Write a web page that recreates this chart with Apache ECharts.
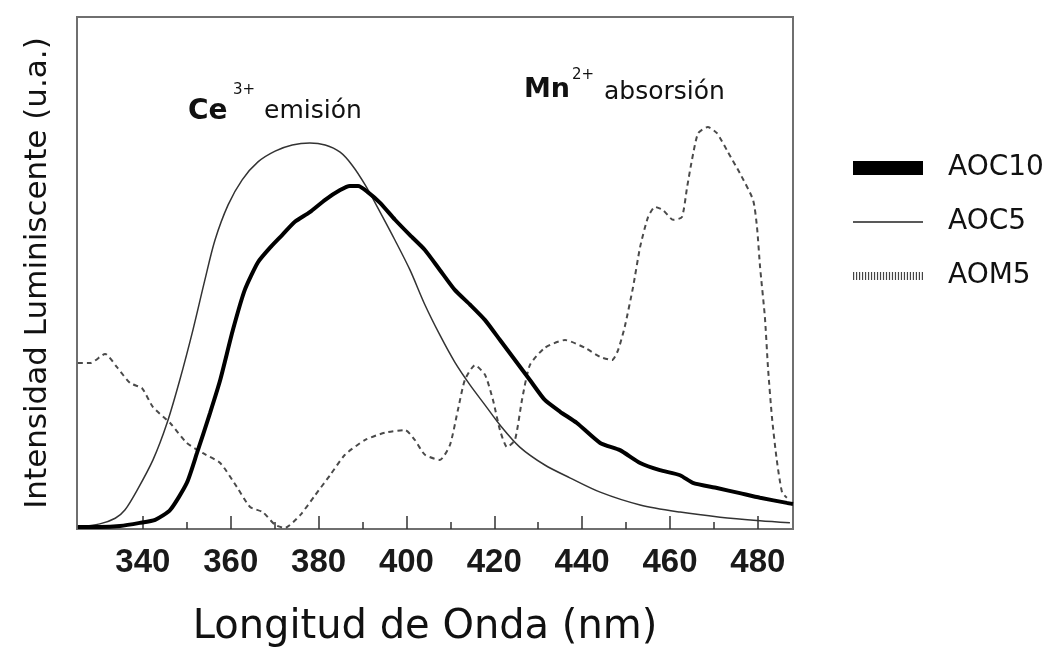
<!DOCTYPE html>
<html>
<head>
<meta charset="utf-8">
<script src="https://cdn.jsdelivr.net/npm/echarts@6/dist/echarts.min.js"></script>
<style>
  html, body { margin: 0; padding: 0; background: #fff; }
  #chart { width: 1053px; height: 658px; }
</style>
</head>
<body>
<div id="chart"></div>
<script>
// Wavelength axis (nm), labelled ticks and the shorter in-between ticks
const xMin = 325;
const xMax = 488;
const xTicks = [340, 360, 380, 400, 420, 440, 460, 480];
const xMinorTicks = [350, 370, 390, 410, 430, 450, 470];

// Series names
const seriesNames = ['AOC10', 'AOC5', 'AOM5'];

// AOC10 emission: [wavelength nm, intensity a.u.]
const aoc10 = [
  [325.2, 0.4], [330.2, 0.4], [334.8, 0.6], [339.3, 1.2], [342.8, 1.8],
  [346.2, 3.7], [350.0, 9.0], [352.3, 14.8], [355.3, 22.7], [357.6, 29.1],
  [360.5, 38.9], [363.2, 46.7], [366.2, 52.1], [368.9, 54.9], [371.7, 57.4],
  [374.6, 60.0], [378.0, 61.9], [381.5, 64.3], [384.9, 66.2], [387.1, 67.0],
  [389.0, 67.0], [391.2, 65.8], [394.0, 63.7], [397.4, 60.4], [400.8, 57.4],
  [404.2, 54.5], [407.6, 50.6], [411.0, 46.7], [414.5, 43.8], [417.9, 40.8],
  [421.3, 36.9], [424.7, 33.0], [428.1, 29.1], [431.5, 25.2], [435.0, 22.9],
  [438.8, 20.7], [444.1, 16.8], [448.6, 15.4], [453.2, 12.9], [457.7, 11.5],
  [462.3, 10.5], [465.2, 9.0], [470.7, 8.0], [475.9, 7.0], [480.5, 6.1],
  [486.6, 5.1], [488.0, 4.9]
];

// AOC5 emission
const aoc5 = [
  [325.2, 0.4], [330.2, 1.0], [333.7, 2.1], [335.9, 3.7], [338.7, 7.6],
  [342.3, 13.5], [345.5, 20.7], [348.4, 29.1], [351.4, 38.9], [354.1, 48.6],
  [356.4, 56.4], [359.4, 63.3], [362.6, 68.2], [366.2, 71.7], [370.1, 73.8],
  [374.0, 75.0], [378.0, 75.4], [381.5, 75.0], [384.9, 73.6], [387.6, 71.1],
  [390.6, 67.2], [394.0, 61.9], [397.4, 56.4], [400.8, 50.6], [404.2, 43.8],
  [407.6, 37.9], [411.0, 32.6], [414.5, 28.1], [417.9, 24.2], [421.3, 20.3],
  [425.8, 16.0], [431.5, 12.5], [437.2, 10.0], [444.1, 7.2], [453.2, 4.7],
  [462.3, 3.3], [471.4, 2.3], [480.5, 1.6], [487.3, 1.2]
];

// AOM5 absorption
const aom5 = [
  [325.2, 32.4], [328.0, 32.4], [331.4, 34.2], [334.1, 31.6], [337.1, 28.5],
  [339.8, 27.5], [342.3, 23.8], [346.2, 20.7], [350.0, 16.8], [353.7, 14.8],
  [357.6, 12.9], [361.4, 8.2], [364.4, 4.3], [367.3, 3.3], [370.1, 0.8],
  [372.3, 0.2], [375.8, 2.7], [379.2, 6.6], [382.6, 10.5], [386.0, 14.5],
  [390.6, 17.4], [395.1, 18.8], [399.7, 19.3], [401.9, 17.4], [404.2, 14.5],
  [407.6, 13.5], [409.9, 16.4], [411.7, 23.2], [413.3, 29.1], [415.6, 32.0],
  [417.9, 30.1], [419.7, 25.2], [421.3, 19.3], [422.9, 16.0], [424.7, 17.4],
  [426.3, 25.2], [428.1, 32.0], [431.5, 35.4], [436.1, 36.9], [440.6, 35.4],
  [444.1, 33.6], [446.8, 33.0], [448.2, 35.0], [449.7, 39.5], [451.6, 47.3],
  [453.2, 55.1], [455.0, 60.9], [456.6, 62.9], [458.4, 62.3], [460.7, 60.4],
  [462.7, 60.9], [463.9, 66.8], [465.0, 72.1], [466.4, 77.3], [468.6, 78.5],
  [470.7, 77.3], [473.2, 73.6], [475.9, 69.5], [478.9, 64.3], [479.8, 59.0],
  [480.5, 51.2], [481.6, 41.4], [482.3, 31.6], [483.2, 21.9], [484.3, 13.5],
  [485.5, 7.2], [486.6, 6.1]
];

const geoFont = "'DejaVu Sans', 'Noto Sans', sans-serif";
const boldFont = "'Liberation Sans', Arial, sans-serif";

// Dotted legend swatch for the absorption curve: a row of thin vertical bars
let dotPath = 'path://';
for (let i = 0; i < 24; i++) {
  const x = i * 3;
  dotPath += 'M' + x + ',3L' + (x + 1.2) + ',3L' + (x + 1.2) + ',11L' + x + ',11Z';
}

const chart = echarts.init(document.getElementById('chart'), null, { renderer: 'canvas' });

chart.setOption({
  backgroundColor: '#ffffff',
  animation: false,
  grid: {
    left: 77, top: 17, right: 260, bottom: 129,
    show: true, borderColor: '#6f6f6f', borderWidth: 2, backgroundColor: 'transparent'
  },
  legend: {
    orient: 'vertical',
    left: 848,
    top: 148,
    itemWidth: 70,
    itemHeight: 14,
    itemGap: 24,
    textStyle: { fontFamily: geoFont, fontSize: 28, color: '#111', lineHeight: 30, padding: [0, 0, 0, 20] },
    data: [
      { name: seriesNames[0], icon: 'rect', itemStyle: { color: '#000' } },
      { name: seriesNames[1], icon: 'path://M0,6.5L70,6.5L70,8L0,8Z', itemStyle: { color: '#222' } },
      { name: seriesNames[2], icon: dotPath, itemStyle: { color: '#444' } }
    ]
  },
  xAxis: [
    {
      type: 'value',
      min: xMin,
      max: xMax,
      interval: 10,
      name: 'Longitud de Onda (nm)',
      nameLocation: 'middle',
      nameGap: 79,
      nameTextStyle: { fontFamily: geoFont, fontSize: 40, color: '#111', padding: [0, 20, 0, 0] },
      axisLine: { show: true, lineStyle: { color: '#6f6f6f', width: 2 } },
      axisTick: {
        show: true, inside: true, length: 13,
        lineStyle: { color: '#333', width: 1.5 },
        customValues: xTicks
      },
      splitLine: { show: false },
      axisLabel: {
        margin: 17,
        fontFamily: boldFont, fontWeight: 'bold', fontSize: 33, color: '#1a1a1a',
        customValues: xTicks,
        formatter: v => String(v)
      }
    },
    {
      // shorter ticks between the labelled ones
      type: 'value',
      position: 'bottom',
      min: xMin,
      max: xMax,
      axisLine: { show: false },
      axisTick: {
        show: true, inside: true, length: 7,
        lineStyle: { color: '#333', width: 1.5 },
        customValues: xMinorTicks
      },
      axisLabel: { show: false },
      splitLine: { show: false }
    }
  ],
  yAxis: {
    type: 'value',
    min: 0,
    max: 100,
    name: 'Intensidad Luminiscente (u.a.)',
    nameLocation: 'middle',
    nameGap: 24,
    nameTextStyle: { fontFamily: geoFont, fontSize: 31, color: '#111' },
    axisLine: { show: false },
    axisTick: { show: false },
    axisLabel: { show: false },
    splitLine: { show: false }
  },
  series: [
    {
      name: seriesNames[0], type: 'line', data: aoc10, showSymbol: false, smooth: 0.2,
      lineStyle: { color: '#000', width: 4 }, itemStyle: { color: '#000' }, z: 3
    },
    {
      name: seriesNames[1], type: 'line', data: aoc5, showSymbol: false, smooth: 0.3,
      lineStyle: { color: '#333', width: 1.5 }, itemStyle: { color: '#333' }, z: 2
    },
    {
      name: seriesNames[2], type: 'line', data: aom5, showSymbol: false, smooth: 0.2,
      lineStyle: { color: '#4a4a4a', width: 2, type: [5, 4] }, itemStyle: { color: '#555' }, z: 1
    }
  ],
  graphic: [
    { type: 'text', left: 188, top: 98, style: { text: 'Ce', fontFamily: "'DejaVu Sans', sans-serif", fontWeight: 'bold', fontSize: 28, fill: '#111' } },
    { type: 'text', left: 233, top: 83, style: { text: '3+', fontFamily: geoFont, fontSize: 15, fill: '#111' } },
    { type: 'text', left: 264, top: 99, style: { text: 'emisión', fontFamily: geoFont, fontSize: 25, fill: '#111' } },
    { type: 'text', left: 524, top: 76, style: { text: 'Mn', fontFamily: "'DejaVu Sans', sans-serif", fontWeight: 'bold', fontSize: 27, fill: '#111' } },
    { type: 'text', left: 572, top: 68, style: { text: '2+', fontFamily: geoFont, fontSize: 15, fill: '#111' } },
    { type: 'text', left: 604, top: 80, style: { text: 'absorsión', fontFamily: geoFont, fontSize: 25, fill: '#111' } }
  ]
});
</script>
</body>
</html>
